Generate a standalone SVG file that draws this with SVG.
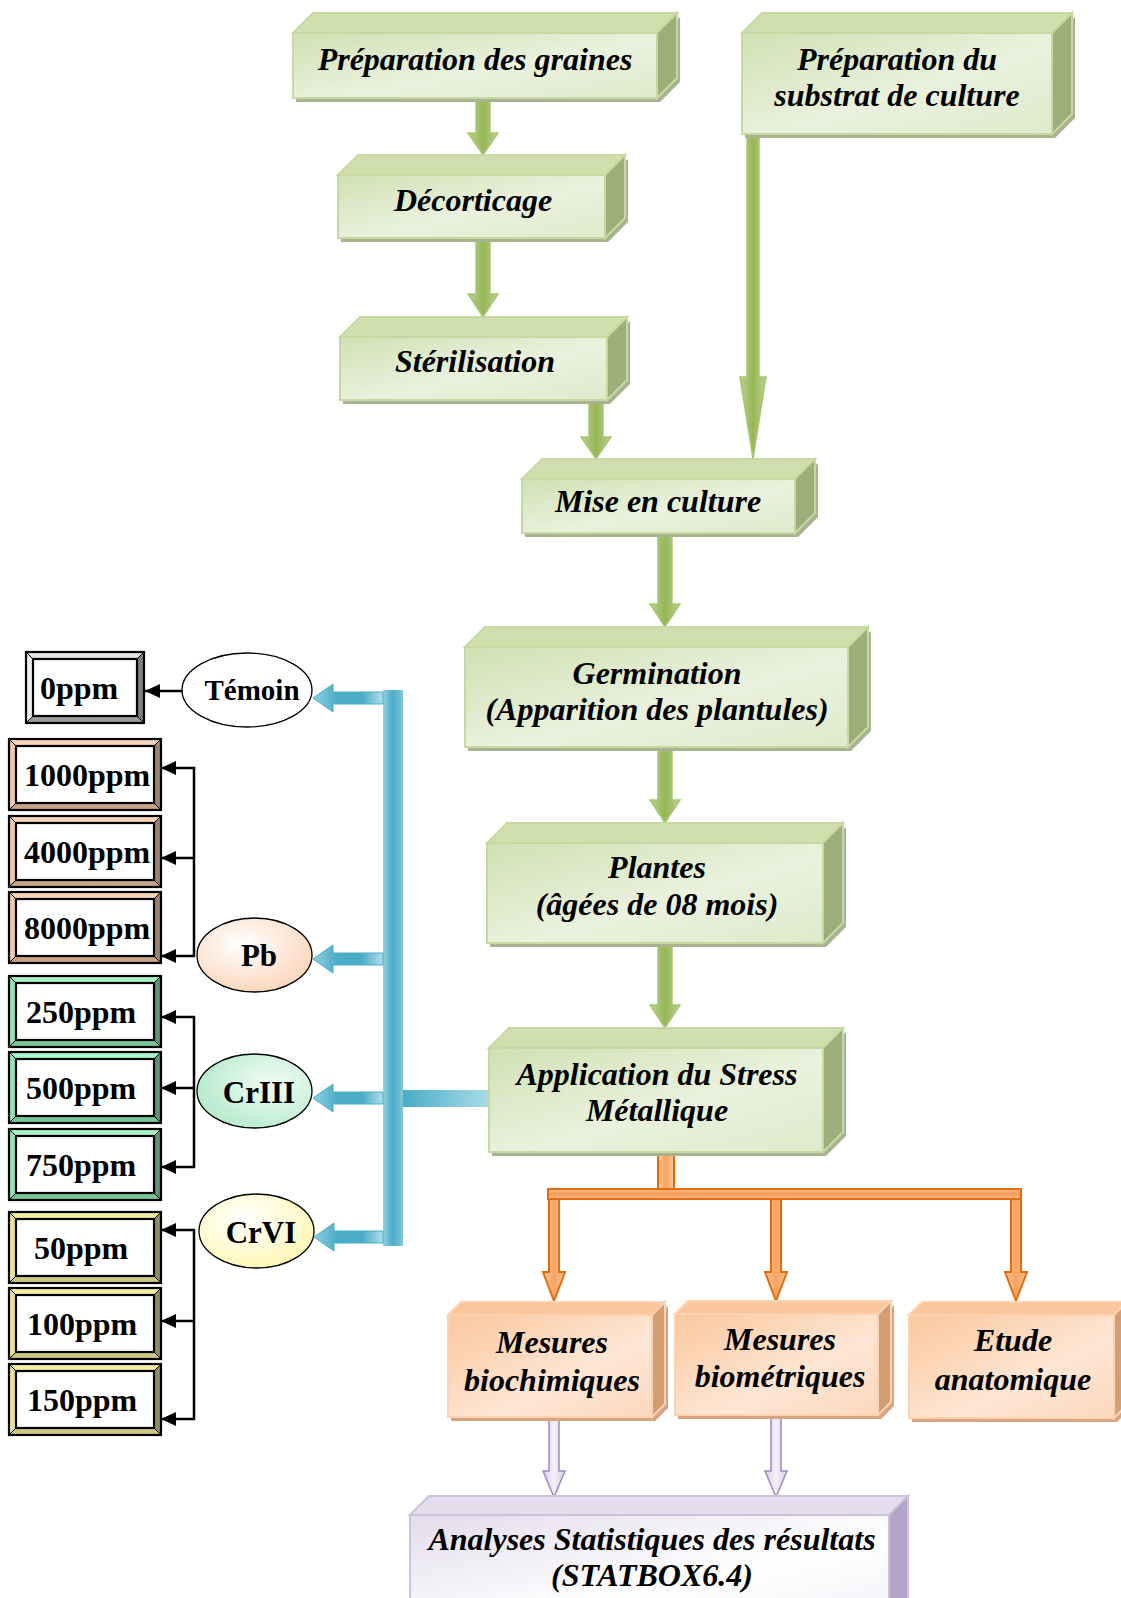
<svg xmlns="http://www.w3.org/2000/svg" xmlns:xlink="http://www.w3.org/1999/xlink" width="1121" height="1598" viewBox="0 0 1121 1598">
<defs>
<style>
.gf{fill:url(#gFront);stroke:#c6d9a3;stroke-width:2}
.gt{fill:#cfe0ae;stroke:#c6d9a3;stroke-width:2}
.gr{fill:#9cae7a;stroke:#c6d9a3;stroke-width:2}
.gs{fill:#a7b48f}
.of{fill:url(#oFront);stroke:#fcd3b2;stroke-width:2}
.ot{fill:#fbc69c;stroke:#fcd3b2;stroke-width:2}
.or{fill:#d49e74;stroke:#fcd3b2;stroke-width:2}
.os{fill:#d9a57f}
.pf{fill:url(#pFront);stroke:#cdc2dc;stroke-width:2}
.pt{fill:#e4deec;stroke:#cdc2dc;stroke-width:2}
.pr{fill:#b4a5c8;stroke:#cdc2dc;stroke-width:2}
.lbl{font-family:"Liberation Serif","Times New Roman",serif;font-weight:bold;font-style:italic;font-size:32px;text-anchor:middle;fill:#000}
.sm{font-family:"Liberation Serif","Times New Roman",serif;font-weight:bold;font-size:32px;fill:#000}
.el{font-family:"Liberation Serif","Times New Roman",serif;font-weight:bold;font-size:31px;text-anchor:middle;fill:#000}
.ell{stroke:#000;stroke-width:1.3}
.ga{fill:url(#gArrow);stroke:#a9c777;stroke-width:1.5}
.oa{fill:url(#oArrow);stroke:#e46c0a;stroke-width:2}
.pa{fill:url(#pArrow);stroke:#9d8bbd;stroke-width:1.5}
.ba{fill:url(#bArrow);stroke:#4bacc6;stroke-width:1}
.ln{stroke:#000;stroke-width:2.5;fill:none}
.bk{fill:none;stroke:#000;stroke-width:2.2}
.dg{stroke:#000;stroke-width:1}
</style>
<linearGradient id="gFront" x1="0" y1="0" x2="1" y2="1"><stop offset="0" stop-color="#d0e1b3"/><stop offset="0.55" stop-color="#eaf1dd"/><stop offset="1" stop-color="#dfeacb"/></linearGradient>
<linearGradient id="oFront" x1="0" y1="0" x2="1" y2="1"><stop offset="0" stop-color="#fbc79d"/><stop offset="0.6" stop-color="#fde6d4"/><stop offset="1" stop-color="#fcd8bd"/></linearGradient>
<linearGradient id="pFront" x1="0" y1="0" x2="1" y2="1"><stop offset="0" stop-color="#e3dceb"/><stop offset="0.6" stop-color="#ffffff"/><stop offset="1" stop-color="#f2eff6"/></linearGradient>
<linearGradient id="gArrow" x1="0" y1="0" x2="1" y2="0"><stop offset="0" stop-color="#bad28f"/><stop offset="0.5" stop-color="#96b755"/><stop offset="1" stop-color="#bad28f"/></linearGradient>
<linearGradient id="oArrow" x1="0" y1="0" x2="1" y2="0"><stop offset="0" stop-color="#fbc7a0"/><stop offset="0.5" stop-color="#f8a35f"/><stop offset="1" stop-color="#fbc7a0"/></linearGradient>
<linearGradient id="oBar" x1="0" y1="0" x2="0" y2="1"><stop offset="0" stop-color="#fbbf90"/><stop offset="0.5" stop-color="#f79b55"/><stop offset="1" stop-color="#fbbf90"/></linearGradient>
<linearGradient id="pArrow" x1="0" y1="0" x2="1" y2="0"><stop offset="0" stop-color="#d8cfe6"/><stop offset="0.5" stop-color="#f4f1f9"/><stop offset="1" stop-color="#d8cfe6"/></linearGradient>
<linearGradient id="bArrow" x1="313" y1="0" x2="383" y2="0" gradientUnits="userSpaceOnUse"><stop offset="0" stop-color="#8fd0e0"/><stop offset="0.35" stop-color="#4bacc6"/><stop offset="0.7" stop-color="#4bacc6"/><stop offset="1" stop-color="#b2dee9"/></linearGradient>
<linearGradient id="bBar" x1="0" y1="0" x2="1" y2="0"><stop offset="0" stop-color="#93d1e1"/><stop offset="0.5" stop-color="#4bacc6"/><stop offset="1" stop-color="#84c7d8"/></linearGradient>
<linearGradient id="bConn" x1="403" y1="0" x2="489" y2="0" gradientUnits="userSpaceOnUse"><stop offset="0" stop-color="#4bacc6"/><stop offset="1" stop-color="#a9dbe7"/></linearGradient>
<linearGradient id="inPb" x1="0" y1="0" x2="1" y2="1"><stop offset="0" stop-color="#fde0cb"/><stop offset="0.3" stop-color="#ffffff"/><stop offset="0.6" stop-color="#fffaf6"/><stop offset="1" stop-color="#f8c6a0"/></linearGradient>
<linearGradient id="inCr3" x1="0" y1="0" x2="1" y2="1"><stop offset="0" stop-color="#b4f2cf"/><stop offset="0.3" stop-color="#ffffff"/><stop offset="0.6" stop-color="#f6fff9"/><stop offset="1" stop-color="#9aeec0"/></linearGradient>
<linearGradient id="inCr6" x1="0" y1="0" x2="1" y2="1"><stop offset="0" stop-color="#fdf8b4"/><stop offset="0.3" stop-color="#ffffff"/><stop offset="0.6" stop-color="#fffff2"/><stop offset="1" stop-color="#fff7a0"/></linearGradient>
<radialGradient id="ePb" cx="0.4" cy="0.35" r="0.75"><stop offset="0" stop-color="#ffffff"/><stop offset="1" stop-color="#fad2b4"/></radialGradient>
<radialGradient id="eCr3" cx="0.65" cy="0.4" r="0.8"><stop offset="0" stop-color="#f3fbf5"/><stop offset="1" stop-color="#a9e9c3"/></radialGradient>
<radialGradient id="eCr6" cx="0.4" cy="0.35" r="0.8"><stop offset="0" stop-color="#ffffff"/><stop offset="1" stop-color="#fff6a8"/></radialGradient>
<marker id="ah" viewBox="0 0 15 14" refX="15" refY="7" markerWidth="15" markerHeight="14" markerUnits="userSpaceOnUse" orient="auto"><path d="M0,0 L15,7 L0,14 z" fill="#000"/></marker>
<g id="bevPb">
<polygon points="0,0 152,0 145,7 7,7" fill="#f6d4b9"/>
<polygon points="0,0 7,7 7,64 0,71" fill="#eecbae"/>
<polygon points="152,0 152,71 145,64 145,7" fill="#9c8270"/>
<polygon points="0,71 7,64 145,64 152,71" fill="#c6a487"/>
<rect x="7" y="7" width="138" height="57" fill="url(#inPb)" class="bk"/>
<path d="M0,0 L7,7 M152,0 L145,7 M0,71 L7,64 M152,71 L145,64" class="dg"/>
<rect x="0" y="0" width="152" height="71" class="bk"/>
</g>
<g id="bevCr3">
<polygon points="0,0 152,0 145,7 7,7" fill="#a9f1c8"/>
<polygon points="0,0 7,7 7,64 0,71" fill="#93e4b4"/>
<polygon points="152,0 152,71 145,64 145,7" fill="#5d9478"/>
<polygon points="0,71 7,64 145,64 152,71" fill="#79c598"/>
<rect x="7" y="7" width="138" height="57" fill="url(#inCr3)" class="bk"/>
<path d="M0,0 L7,7 M152,0 L145,7 M0,71 L7,64 M152,71 L145,64" class="dg"/>
<rect x="0" y="0" width="152" height="71" class="bk"/>
</g>
<g id="bevCr6">
<polygon points="0,0 152,0 145,7 7,7" fill="#f5eea2"/>
<polygon points="0,0 7,7 7,64 0,71" fill="#ece38f"/>
<polygon points="152,0 152,71 145,64 145,7" fill="#8f8d5f"/>
<polygon points="0,71 7,64 145,64 152,71" fill="#cdc882"/>
<rect x="7" y="7" width="138" height="57" fill="url(#inCr6)" class="bk"/>
<path d="M0,0 L7,7 M152,0 L145,7 M0,71 L7,64 M152,71 L145,64" class="dg"/>
<rect x="0" y="0" width="152" height="71" class="bk"/>
</g>
</defs>
<rect width="1121" height="1598" fill="#ffffff"/>

<g id="connectors">
<polygon class="ga" points="476,98 490,98 490,133 498,133 483,155 468,133 476,133"/>
<polygon class="ga" points="476,238 490,238 490,294 498,294 483,317 468,294 476,294"/>
<polygon class="ga" points="589,400 603,400 603,437 611,437 596,459 581,437 589,437"/>
<polygon class="ga" points="747,134 759,134 759,377 766,377 753,459 740,377 747,377"/>
<polygon class="ga" points="658,533 672,533 672,604 680,604 665,627 650,604 658,604"/>
<polygon class="ga" points="658,747 672,747 672,800 680,800 665,823 650,800 658,800"/>
<polygon class="ga" points="658,943 672,943 672,1005 680,1005 665,1028 650,1005 658,1005"/>
<rect x="658" y="1152" width="16" height="37" fill="url(#oArrow)" stroke="#e46c0a" stroke-width="2"/>
<rect x="548" y="1189" width="473" height="10" fill="url(#oBar)" stroke="#e46c0a" stroke-width="2"/>
<polygon class="oa" points="549,1199 559,1199 559,1272 565,1272 554,1301 543,1272 549,1272"/>
<polygon class="oa" points="771,1199 781,1199 781,1272 787,1272 776,1301 765,1272 771,1272"/>
<polygon class="oa" points="1011,1199 1021,1199 1021,1272 1027,1272 1016,1301 1005,1272 1011,1272"/>
<polygon class="pa" points="549,1417 559,1417 559,1471 565,1471 554,1497 543,1471 549,1471"/>
<polygon class="pa" points="771,1415 781,1415 781,1471 787,1471 776,1497 765,1471 771,1471"/>
<rect x="403" y="1090" width="86" height="17" fill="url(#bConn)"/>
<rect x="383" y="690" width="20" height="556" fill="url(#bBar)"/>
<polygon class="ba" points="313,698 333,684 333,692 383,692 383,704 333,704 333,712"/>
<polygon class="ba" points="313,959 333,945 333,953 383,953 383,965 333,965 333,973"/>
<polygon class="ba" points="313,1098 333,1084 333,1092 383,1092 383,1104 333,1104 333,1112"/>
<polygon class="ba" points="314,1237 334,1223 334,1231 383,1231 383,1243 334,1243 334,1251"/>
<path class="ln" d="M182,691 H145" marker-end="url(#ah)"/>
<path class="ln" d="M194,767 V957"/>
<path class="ln" d="M195,768 H161" marker-end="url(#ah)"/>
<path class="ln" d="M195,858 H161" marker-end="url(#ah)"/>
<path class="ln" d="M195,956 H161" marker-end="url(#ah)"/>
<path class="ln" d="M194,1016 V1168"/>
<path class="ln" d="M195,1017 H161" marker-end="url(#ah)"/>
<path class="ln" d="M195,1088 H161" marker-end="url(#ah)"/>
<path class="ln" d="M195,1167 H161" marker-end="url(#ah)"/>
<path class="ln" d="M194,1229 V1420"/>
<path class="ln" d="M195,1230 H161" marker-end="url(#ah)"/>
<path class="ln" d="M195,1321 H161" marker-end="url(#ah)"/>
<path class="ln" d="M195,1419 H161" marker-end="url(#ah)"/>
</g>

<g id="node-prep-graines">
<polygon class="gs" points="296,37 660,37 680,17 680,82 660,102 296,102"/>
<polygon class="gt" points="293,33 313,13 677,13 657,33"/>
<polygon class="gr" points="657,33 677,13 677,78 657,98"/>
<rect class="gf" x="293" y="33" width="364" height="65"/>
<text class="lbl" x="475" y="70">Préparation des graines</text>
</g>

<g id="node-prep-substrat">
<polygon class="gs" points="745,37 1055,37 1075,17 1075,118 1055,138 745,138"/>
<polygon class="gt" points="742,33 762,13 1072,13 1052,33"/>
<polygon class="gr" points="1052,33 1072,13 1072,114 1052,134"/>
<rect class="gf" x="742" y="33" width="310" height="101"/>
<text class="lbl" x="897" y="70">Préparation du</text>
<text class="lbl" x="897" y="106">substrat de culture</text>
</g>

<g id="node-decorticage">
<polygon class="gs" points="341,179 608,179 628,159 628,222 608,242 341,242"/>
<polygon class="gt" points="338,175 358,155 625,155 605,175"/>
<polygon class="gr" points="605,175 625,155 625,218 605,238"/>
<rect class="gf" x="338" y="175" width="267" height="63"/>
<text class="lbl" x="473" y="211">Décorticage</text>
</g>

<g id="node-sterilisation">
<polygon class="gs" points="343,341 610,341 630,321 630,384 610,404 343,404"/>
<polygon class="gt" points="340,337 360,317 627,317 607,337"/>
<polygon class="gr" points="607,337 627,317 627,380 607,400"/>
<rect class="gf" x="340" y="337" width="267" height="63"/>
<text class="lbl" x="475" y="372">Stérilisation</text>
</g>

<g id="node-mise-en-culture">
<polygon class="gs" points="525,483 798,483 818,463 818,517 798,537 525,537"/>
<polygon class="gt" points="522,479 542,459 815,459 795,479"/>
<polygon class="gr" points="795,479 815,459 815,513 795,533"/>
<rect class="gf" x="522" y="479" width="273" height="54"/>
<text class="lbl" x="658" y="512">Mise en culture</text>
</g>

<g id="node-germination">
<polygon class="gs" points="468,651 851,651 871,631 871,731 851,751 468,751"/>
<polygon class="gt" points="465,647 485,627 868,627 848,647"/>
<polygon class="gr" points="848,647 868,627 868,727 848,747"/>
<rect class="gf" x="465" y="647" width="383" height="100"/>
<text class="lbl" x="657" y="684">Germination</text>
<text class="lbl" x="657" y="720">(Apparition des plantules)</text>
</g>

<g id="node-plantes">
<polygon class="gs" points="490,847 826,847 846,827 846,927 826,947 490,947"/>
<polygon class="gt" points="487,843 507,823 843,823 823,843"/>
<polygon class="gr" points="823,843 843,823 843,923 823,943"/>
<rect class="gf" x="487" y="843" width="336" height="100"/>
<text class="lbl" x="657" y="878">Plantes</text>
<text class="lbl" x="657" y="915">(âgées de 08 mois)</text>
</g>

<g id="node-application">
<polygon class="gs" points="492,1052 826,1052 846,1032 846,1136 826,1156 492,1156"/>
<polygon class="gt" points="489,1048 509,1028 843,1028 823,1048"/>
<polygon class="gr" points="823,1048 843,1028 843,1132 823,1152"/>
<rect class="gf" x="489" y="1048" width="334" height="104"/>
<text class="lbl" x="657" y="1085">Application du Stress</text>
<text class="lbl" x="657" y="1121">Métallique</text>
</g>

<g id="node-biochimiques">
<polygon class="os" points="451,1319 655,1319 668,1306 668,1408 655,1421 451,1421"/>
<polygon class="ot" points="448,1315 461,1302 665,1302 652,1315"/>
<polygon class="or" points="652,1315 665,1302 665,1404 652,1417"/>
<rect class="of" x="448" y="1315" width="204" height="102"/>
<text class="lbl" x="552" y="1353">Mesures</text>
<text class="lbl" x="552" y="1391">biochimiques</text>
</g>

<g id="node-biometriques">
<polygon class="os" points="678,1318 881,1318 894,1305 894,1406 881,1419 678,1419"/>
<polygon class="ot" points="675,1314 688,1301 891,1301 878,1314"/>
<polygon class="or" points="878,1314 891,1301 891,1402 878,1415"/>
<rect class="of" x="675" y="1314" width="203" height="101"/>
<text class="lbl" x="780" y="1350">Mesures</text>
<text class="lbl" x="780" y="1387">biométriques</text>
</g>

<g id="node-anatomique">
<polygon class="os" points="912,1319 1117,1319 1130,1306 1130,1409 1117,1422 912,1422"/>
<polygon class="ot" points="909,1315 922,1302 1127,1302 1114,1315"/>
<polygon class="or" points="1114,1315 1127,1302 1127,1405 1114,1418"/>
<rect class="of" x="909" y="1315" width="205" height="103"/>
<text class="lbl" x="1013" y="1351">Etude</text>
<text class="lbl" x="1013" y="1390">anatomique</text>
</g>

<g id="node-analyses">
<polygon class="pt" points="410,1515 429,1496 908,1496 889,1515"/>
<polygon class="pr" points="889,1515 908,1496 908,1606 889,1625"/>
<rect class="pf" x="410" y="1515" width="479" height="110"/>
<text class="lbl" x="652" y="1550">Analyses Statistiques des résultats</text>
<text class="lbl" x="652" y="1586">(STATBOX6.4)</text>
</g>

<g id="node-temoin">
<ellipse class="ell" cx="247" cy="690" rx="65" ry="37" fill="#ffffff"/>
<text class="el" x="252" y="700" style="font-size:29px">Témoin</text>
</g>
<g id="node-pb">
<ellipse class="ell" cx="254.5" cy="955" rx="57.5" ry="37" fill="url(#ePb)"/>
<text class="el" x="259" y="966">Pb</text>
</g>
<g id="node-cr3">
<ellipse class="ell" cx="254.5" cy="1091" rx="57.5" ry="37" fill="url(#eCr3)"/>
<text class="el" x="259" y="1103">CrIII</text>
</g>
<g id="node-cr6">
<ellipse class="ell" cx="256.5" cy="1231" rx="57.5" ry="37" fill="url(#eCr6)"/>
<text class="el" x="261" y="1243">CrVI</text>
</g>

<g id="node-0ppm">
<polygon points="26,652 144,652 137,659 33,659" fill="#e4e4e4"/>
<polygon points="26,652 33,659 33,716 26,723" fill="#f0f0f0"/>
<polygon points="144,652 144,723 137,716 137,659" fill="#7f7f7f"/>
<polygon points="26,723 33,716 137,716 144,723" fill="#9a9a9a"/>
<rect x="33" y="659" width="104" height="57" fill="#ffffff" class="bk"/>
<path d="M26,652 L33,659 M144,652 L137,659 M26,723 L33,716 M144,723 L137,716" class="dg"/>
<rect x="26" y="652" width="118" height="71" class="bk"/>
<text class="sm" x="40" y="699">0ppm</text>
</g>

<g id="node-1000ppm"><use xlink:href="#bevPb" x="9" y="739"/><text class="sm" x="24" y="786">1000ppm</text></g>
<g id="node-4000ppm"><use xlink:href="#bevPb" x="9" y="816"/><text class="sm" x="24" y="863">4000ppm</text></g>
<g id="node-8000ppm"><use xlink:href="#bevPb" x="9" y="892"/><text class="sm" x="24" y="939">8000ppm</text></g>
<g id="node-250ppm"><use xlink:href="#bevCr3" x="9" y="976"/><text class="sm" x="26" y="1023">250ppm</text></g>
<g id="node-500ppm"><use xlink:href="#bevCr3" x="9" y="1052"/><text class="sm" x="26" y="1099">500ppm</text></g>
<g id="node-750ppm"><use xlink:href="#bevCr3" x="9" y="1129"/><text class="sm" x="26" y="1176">750ppm</text></g>
<g id="node-50ppm"><use xlink:href="#bevCr6" x="9" y="1212"/><text class="sm" x="34" y="1259">50ppm</text></g>
<g id="node-100ppm"><use xlink:href="#bevCr6" x="9" y="1288"/><text class="sm" x="27" y="1335">100ppm</text></g>
<g id="node-150ppm"><use xlink:href="#bevCr6" x="9" y="1364"/><text class="sm" x="27" y="1411">150ppm</text></g>
</svg>
